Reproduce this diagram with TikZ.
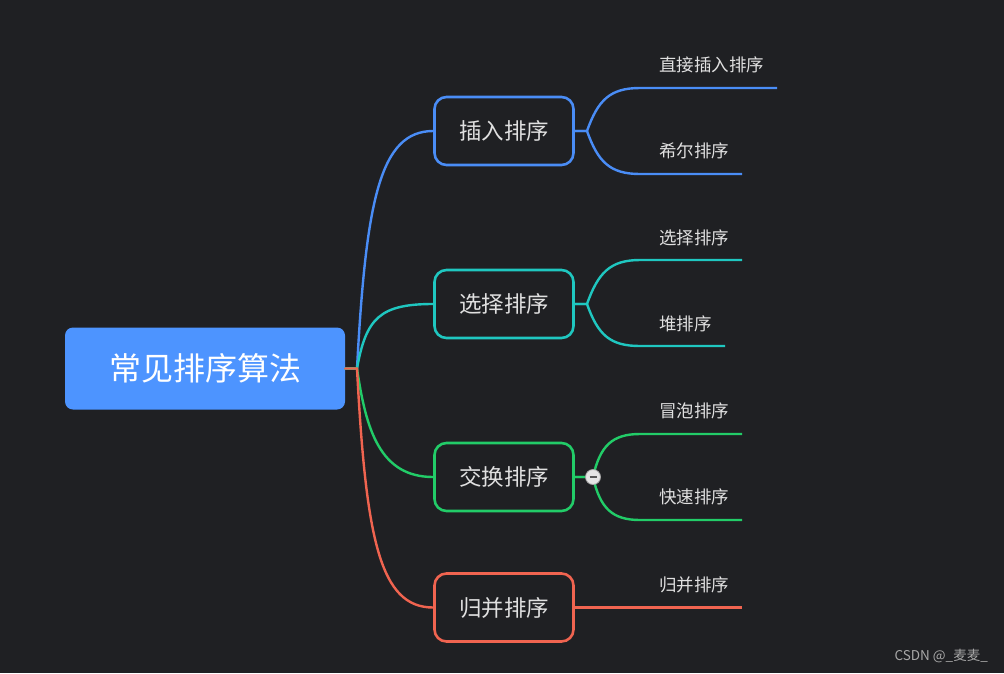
\documentclass[tikz,border=0pt]{standalone}
\usepackage{fontspec}
\setmainfont{Noto Sans CJK SC}
\definecolor{bg}{HTML}{1F2023}
\definecolor{rootfill}{HTML}{4D94FF}
\definecolor{cblue}{HTML}{4A8DF6}
\definecolor{ccyan}{HTML}{1FC7C0}
\definecolor{cgreen}{HTML}{22CC68}
\definecolor{cred}{HTML}{F06450}
\definecolor{txt}{HTML}{E0E0E0}
\definecolor{wm}{HTML}{A8A8A8}
\begin{document}
\begin{tikzpicture}[x=1pt,y=-1pt,
  rootbox/.style={fill=rootfill, rounded corners=8pt, minimum width=280pt, minimum height=82pt, inner sep=0pt, text=white, font=\fontsize{32}{36}\selectfont},
  catbox/.style={line width=2.6pt, fill=bg, rounded corners=12pt, minimum width=139pt, minimum height=68pt, inner sep=0pt, text=txt, font=\fontsize{22.5}{26}\selectfont},
  leaftext/.style={anchor=west, inner sep=0pt, text=txt, font=\fontsize{17.5}{20}\selectfont},
  conn/.style={line width=2.4pt, line cap=round},
  leafline/.style={line width=2.4pt},
]
\fill[bg] (0,0) rectangle (1004,673);
\useasboundingbox (0,0) rectangle (1004,673);

% root and categories
\node[rootbox] (root) at (205,368.5) {常见排序算法};
\node[catbox, draw=cblue] (c1) at (504,131) {\raisebox{-1.5pt}{插入排序}};
\node[catbox, draw=ccyan] (c2) at (504,304) {\raisebox{-1.5pt}{选择排序}};
\node[catbox, draw=cgreen] (c3) at (504,477) {\raisebox{-1.5pt}{交换排序}};
\node[catbox, draw=cred] (c4) at (504,607.5) {\raisebox{-1.5pt}{归并排序}};

\coordinate (rj) at (357,368.5);

% root connectors
\draw[conn, cblue] (root.east) -- (rj) .. controls (366,200) and (380,131) .. (c1.west);
\draw[conn, ccyan] (root.east) -- (rj) .. controls (366,318) and (380,304) .. (c2.west);
\draw[conn, cgreen] (root.east) -- (rj) .. controls (366,430) and (380,477) .. (c3.west);
\draw[conn, cred] (root.east) -- (rj) .. controls (366,540) and (380,607.5) .. (c4.west);

% leaf texts
\node[leaftext] (l11) at (659,65) {直接插入排序};
\node[leaftext] (l12) at (659,151) {希尔排序};
\node[leaftext] (l21) at (659,238) {选择排序};
\node[leaftext] (l22) at (659,324) {堆排序};
\node[leaftext] (l31) at (659,411) {冒泡排序};
\node[leaftext] (l32) at (659,497) {快速排序};
\node[leaftext] (l41) at (659,585) {归并排序};

% branch points and line ends
\coordinate (b1) at (587,131);
\coordinate (b2) at (587,304);
\coordinate (b3) at (593,477);
\coordinate (s11) at (640,88);   \coordinate (e11) at (777,88);
\coordinate (s12) at (640,174);  \coordinate (e12) at (742,174);
\coordinate (s21) at (640,260);  \coordinate (e21) at (742,260);
\coordinate (s22) at (640,346);  \coordinate (e22) at (725,346);
\coordinate (s31) at (640,434);  \coordinate (e31) at (742,434);
\coordinate (s32) at (640,520);  \coordinate (e32) at (742,520);
\coordinate (e41) at (742,607.5);

\draw[leafline, cblue] (c1.east) -- (b1) .. controls (598,100) and (610,88) .. (s11) -- (e11);
\draw[leafline, cblue] (c1.east) -- (b1) .. controls (598,162) and (610,174) .. (s12) -- (e12);
\draw[leafline, ccyan] (c2.east) -- (b2) .. controls (598,273) and (610,260) .. (s21) -- (e21);
\draw[leafline, ccyan] (c2.east) -- (b2) .. controls (598,335) and (610,346) .. (s22) -- (e22);
\draw[leafline, cgreen] (c3.east) -- (b3) .. controls (600,446) and (612,434) .. (s31) -- (e31);
\draw[leafline, cgreen] (c3.east) -- (b3) .. controls (600,508) and (612,520) .. (s32) -- (e32);
\draw[leafline, cred] (c4.east) -- (e41);

% collapse button
\node[circle, fill=white!90!black, draw=gray!70, line width=0.8pt, minimum size=15pt, inner sep=0pt] (btn) at (b3) {};
\draw[line width=1.6pt, black!65] ([xshift=-3.5pt]btn.center) -- ([xshift=3.5pt]btn.center);

% watermark
\node[anchor=east, inner sep=0pt, text=wm, font=\fontsize{13.5}{15}\selectfont] (wmark) at (988,656) {CSDN @\_麦麦\_};
\end{tikzpicture}
\end{document}
